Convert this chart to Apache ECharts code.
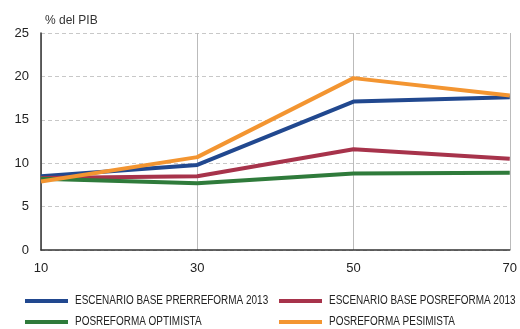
<!DOCTYPE html>
<html>
<head>
<meta charset="utf-8">
<script src="https://cdn.jsdelivr.net/npm/echarts@6/dist/echarts.min.js"></script>
<style>
  html, body { margin: 0; padding: 0; background: #fff; }
  #chart { width: 520px; height: 329px; }
</style>
</head>
<body>
<div id="chart"></div>
<script>
// Years of projection (x) and debt as % of GDP per scenario
const years = [10, 30, 50, 70];
const prerreforma = [8.5, 9.8, 17.1, 17.6];
const posreforma = [8.3, 8.5, 11.6, 10.5];
const optimista = [8.2, 7.7, 8.8, 8.9];
const pesimista = [7.9, 10.7, 19.8, 17.8];
const yTicks = [0, 5, 10, 15, 20, 25];

const names = [
  'ESCENARIO BASE PRERREFORMA 2013',
  'ESCENARIO BASE POSREFORMA 2013',
  'POSREFORMA OPTIMISTA',
  'POSREFORMA PESIMISTA'
];
const colors = ['#21488f', '#a7334b', '#2f7b3b', '#f39531'];
const values = [prerreforma, posreforma, optimista, pesimista];

// Two-column key below the plot, with condensed lettering
const keySlots = [
  { x: 25, y: 301 }, { x: 279, y: 301 },
  { x: 25, y: 322 }, { x: 279, y: 322 }
];
const keyGraphics = [];
names.forEach((n, i) => {
  const s = keySlots[i];
  keyGraphics.push({
    type: 'rect', left: s.x, top: s.y - 2,
    shape: { width: 43, height: 4 },
    style: { fill: colors[i] }
  });
  keyGraphics.push({
    type: 'text', x: s.x + 50, y: s.y, scaleX: 0.83,
    style: {
      text: n, fill: '#222',
      font: '12px "Liberation Sans", Arial, sans-serif',
      textVerticalAlign: 'middle', verticalAlign: 'middle'
    }
  });
});

const chart = echarts.init(document.getElementById('chart'), null, { renderer: 'canvas' });
chart.setOption({
  animation: false,
  grid: { left: 41, right: 5, top: 33, bottom: 79 },
  title: {
    text: '% del PIB',
    left: 40, top: 10,
    textStyle: { fontFamily: 'Liberation Sans, Arial, sans-serif', fontSize: 12, fontWeight: 'normal', color: '#333' }
  },
  graphic: keyGraphics,
  xAxis: {
    type: 'value', min: 10, max: 70, interval: 20,
    axisLine: { show: true, lineStyle: { color: '#333', width: 1.5 } },
    axisTick: { show: false },
    axisLabel: { fontFamily: 'Liberation Sans, Arial, sans-serif', fontSize: 13, color: '#222', margin: 12 },
    splitLine: { show: true, lineStyle: { color: '#bbb', width: 1, type: 'solid' } }
  },
  yAxis: {
    type: 'value', min: yTicks[0], max: yTicks[yTicks.length - 1], interval: 5,
    axisLine: { show: true, lineStyle: { color: '#333', width: 1.5 } },
    axisTick: { show: false },
    axisLabel: { fontFamily: 'Liberation Sans, Arial, sans-serif', fontSize: 13, color: '#222', margin: 12 },
    splitLine: { show: true, lineStyle: { color: '#c8c8c8', width: 1, type: [4, 3] } }
  },
  series: values.map((v, i) => ({
    name: names[i],
    type: 'line',
    data: years.map((x, j) => [x, v[j]]),
    showSymbol: false,
    lineStyle: { color: colors[i], width: 4 },
    itemStyle: { color: colors[i] },
    z: i === 3 ? 5 : 3
  }))
});
</script>
</body>
</html>
